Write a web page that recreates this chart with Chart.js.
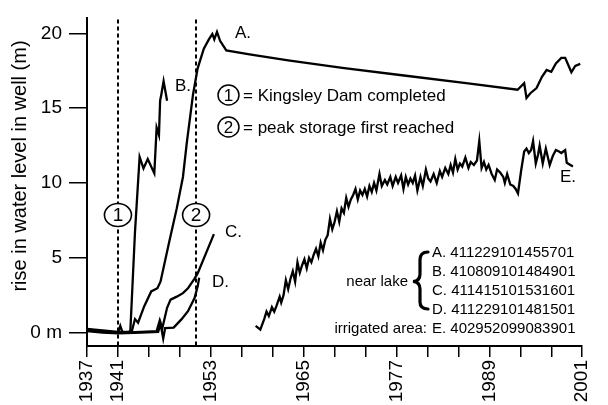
<!DOCTYPE html>
<html><head><meta charset="utf-8">
<script src="https://cdn.jsdelivr.net/npm/chart.js@4"></script>
<style>html,body{margin:0;padding:0;background:#fff}</style>
</head><body>
<canvas id="c" width="608" height="405" style="width:608px;height:405px"></canvas>
<script>
// ---- data (year, rise in metres) ----
const aYears  = [1937, 1939, 1941, 1942.5, 1942.8, 1943.2, 1943.6, 1944.4, 1945.3, 1946.1, 1946.5, 1947.6, 1948.6, 1949.4, 1949.9, 1950.7, 1951.3, 1952.1, 1952.75, 1953.2, 1953.45, 1953.8, 1954.2, 1955.0, 1958.0, 1963.0, 1970.0, 1977.7, 1986.0, 1992.65, 1993.5, 1993.8, 1994.3, 1995.1, 1995.8, 1996.4, 1997.0, 1997.6, 1998.3, 1998.8, 1999.2, 1999.6, 2000.1, 2000.75];
const aValues = [0.25, 0.15, 0.05, 0.05, 0.1, 0.9, 0.66, 1.76, 2.75, 2.96, 3.4, 6.0, 8.3, 10.4, 12.7, 15.9, 17.66, 18.97, 19.6, 19.96, 19.6, 20.1, 19.5, 18.86, 18.6, 18.2, 17.7, 17.2, 16.67, 16.23, 16.67, 15.68, 16.0, 16.34, 17.1, 17.55, 17.43, 17.99, 18.36, 18.36, 17.88, 17.4, 17.83, 17.96];

const bYears  = [1937, 1939, 1941, 1942.3, 1942.6, 1943.2, 1943.8, 1944.3, 1944.85, 1945.7, 1946.0, 1946.3, 1946.45, 1946.6, 1946.9, 1947.35];
const bValues = [0.2, 0.1, 0.0, 0.0, 0.1, 6.7, 11.74, 10.97, 11.6, 10.64, 13.7, 13.2, 15.5, 15.9, 16.8, 15.5];

const cYears  = [1937, 1939, 1941, 1941.3, 1941.6, 1944, 1946.0, 1946.4, 1946.7, 1947.35, 1947.8, 1948.6, 1949.4, 1950.05, 1950.9, 1951.3, 1953.4];
const cValues = [0.15, 0.05, 0.0, 0.45, 0.0, 0.05, 0.1, 0.8, 0.22, 1.65, 2.2, 2.4, 2.63, 2.96, 3.6, 3.95, 6.58];

const dYears  = [1937, 1939, 1941, 1944, 1946.2, 1946.5, 1946.85, 1947.1, 1948.2, 1949.2, 1950.05, 1950.9, 1951.3, 1951.5];
const dValues = [0.1, 0.0, -0.05, 0.0, 0.05, 0.6, -0.4, 0.3, 0.33, 0.88, 1.43, 2.3, 3.07, 3.66];

const eYears  = [1958.8, 1959.4, 1959.9, 1960.2, 1960.5, 1960.9, 1961.2, 1961.5, 1961.9, 1962.1, 1962.4, 1962.7, 1963.0, 1963.3, 1963.6, 1963.9, 1964.2, 1964.5, 1964.8, 1965.1, 1965.4, 1965.7, 1966.0, 1966.3, 1966.6, 1966.9, 1967.2, 1967.5, 1967.8, 1968.1, 1968.4, 1968.7, 1969.0, 1969.3, 1969.6, 1969.9, 1970.2, 1970.5, 1970.8, 1971.1, 1971.4, 1971.7, 1972.0, 1972.3, 1972.6, 1972.9, 1973.2, 1973.5, 1973.8, 1974.1, 1974.4, 1974.8, 1975.1, 1975.5, 1975.8, 1976.2, 1976.5, 1976.9, 1977.2, 1977.6, 1977.9, 1978.2, 1978.5, 1978.8, 1979.1, 1979.4, 1979.7, 1980.1, 1980.4, 1980.8, 1981.1, 1981.4, 1981.8, 1982.2, 1982.6, 1982.9, 1983.3, 1983.7, 1984.0, 1984.3, 1984.6, 1984.9, 1985.2, 1985.5, 1985.9, 1986.3, 1986.6, 1987.0, 1987.4, 1987.7, 1988.0, 1988.3, 1988.6, 1988.9, 1989.3, 1989.7, 1990.0, 1990.4, 1990.8, 1991.0, 1991.3, 1991.7, 1992.1, 1992.4, 1992.7, 1993.1, 1993.5, 1993.8, 1994.1, 1994.4, 1994.65, 1995.0, 1995.3, 1995.5, 1995.9, 1996.3, 1996.8, 1997.2, 1997.6, 1998.0, 1998.3, 1998.8, 1999.0, 1999.8];
const eValues = [0.45, 0.2, 0.9, 1.4, 1.1, 1.7, 1.4, 1.8, 2.4, 2.0, 2.5, 3.5, 2.9, 3.6, 4.1, 3.4, 4.7, 4.0, 4.5, 4.9, 4.3, 5.0, 4.7, 5.2, 5.6, 5.1, 6.0, 5.5, 6.2, 6.5, 7.6, 6.9, 7.4, 8.1, 7.4, 8.3, 8.0, 9.0, 8.4, 8.9, 9.2, 9.6, 8.9, 9.5, 9.2, 9.6, 9.1, 9.8, 9.4, 10.0, 9.5, 10.6, 9.8, 10.2, 9.9, 10.4, 9.8, 10.4, 10.0, 10.5, 9.6, 10.4, 9.9, 10.3, 10.0, 10.5, 9.5, 10.4, 9.8, 10.9, 10.3, 10.1, 10.6, 10.0, 10.8, 10.4, 11.0, 10.6, 11.2, 10.7, 11.6, 10.9, 11.3, 11.1, 11.7, 11.0, 11.4, 11.2, 11.5, 12.8, 11.0, 11.4, 10.9, 11.2, 10.6, 10.2, 10.9, 10.7, 10.4, 10.0, 10.6, 9.9, 9.8, 9.6, 9.3, 10.8, 12.1, 12.3, 12.0, 12.2, 12.8, 11.3, 11.9, 12.5, 11.3, 12.3, 11.2, 11.8, 12.2, 12.1, 12.0, 12.2, 11.35, 11.1];

const seriesNames = ['A.', 'B.', 'C.', 'D.', 'E.'];
const wellIds = ['411229101455701', '410809101484901', '411415101531601', '411229101481501', '402952099083901'];

const xTickYears = [1937, 1941, 1945, 1949, 1953, 1957, 1961, 1965, 1969, 1973, 1977, 1981, 1985, 1989, 1993, 1997, 2001];
const xLabeledYears = [1937, 1941, 1953, 1965, 1977, 1989, 2001];
const yTickValues = [0, 5, 10, 15, 20];
const yTickLabels = ['0 m', '5', '10', '15', '20'];

const eventYears = [1941, 1951.1];
const eventMarks = ['1', '2'];
const eventTexts = ['= Kingsley Dam completed', '= peak storage first reached'];
const yTitle = 'rise in water level in well (m)';

// ---- helpers ----
const FONT = "'Liberation Sans', Arial, sans-serif";
function pts(xs, ys) { return xs.map((x, i) => ({ x: x, y: ys[i] })); }
function ds(xs, ys) {
  return { data: pts(xs, ys), showLine: true, borderColor: '#000', borderWidth: 2.3,
           pointRadius: 0, tension: 0, fill: false, borderJoinStyle: 'miter' };
}

const overlay = {
  id: 'overlay',
  beforeDraw(chart) {
    const c = chart.ctx;
    c.save(); c.fillStyle = '#fff'; c.fillRect(0, 0, chart.width, chart.height); c.restore();
  },
  beforeDatasetsDraw(chart) {
    const c = chart.ctx, xs = chart.scales.x, area = chart.chartArea;
    c.save();
    c.strokeStyle = '#000'; c.lineWidth = 2; c.setLineDash([4, 3]);
    eventYears.forEach(yr => {
      const px = Math.round(xs.getPixelForValue(yr));
      c.beginPath(); c.moveTo(px, area.top + 1); c.lineTo(px, area.bottom); c.stroke();
    });
    c.restore();
  },
  afterDraw(chart) {
    const c = chart.ctx, xs = chart.scales.x;
    c.save();
    c.fillStyle = '#000'; c.strokeStyle = '#000';
    // circled event markers on the dotted lines
    eventYears.forEach((yr, i) => {
      const px = xs.getPixelForValue(yr);
      c.beginPath(); c.ellipse(px, 215, 13.5, 11.5, 0, 0, Math.PI * 2);
      c.fillStyle = '#fff'; c.fill(); c.lineWidth = 1.6; c.stroke();
      c.fillStyle = '#000'; c.font = '19px ' + FONT; c.textAlign = 'center'; c.textBaseline = 'middle';
      c.fillText(eventMarks[i], px, 216);
    });
    // event key
    eventTexts.forEach((t, i) => {
      const cy = 95 + i * 32;
      c.beginPath(); c.ellipse(228.5, cy, 10.5, 10, 0, 0, Math.PI * 2);
      c.lineWidth = 1.5; c.stroke();
      c.font = '17px ' + FONT; c.textAlign = 'center'; c.textBaseline = 'middle';
      c.fillText(eventMarks[i], 228.5, cy + 1);
      c.textAlign = 'left';
      c.fillText(t, 243, cy + 1);
    });
    // series labels
    const lbl = [[235, 33], [175, 86], [225, 232], [212, 282], [560, 177]];
    c.font = '17px ' + FONT; c.textAlign = 'left'; c.textBaseline = 'middle';
    seriesNames.forEach((n, i) => c.fillText(n, lbl[i][0], lbl[i][1]));
    // well legend
    c.font = '15px ' + FONT;
    seriesNames.forEach((n, i) => c.fillText(n + ' ' + wellIds[i], 432, 253 + i * 19));
    c.textAlign = 'right';
    c.fillText('near lake', 408, 282);
    c.fillText('irrigated area:', 427, 329);
    // brace
    c.lineWidth = 3.2; c.lineCap = 'round';
    c.beginPath();
    c.moveTo(428, 252);
    c.quadraticCurveTo(420, 252, 420, 260);
    c.lineTo(420, 274);
    c.quadraticCurveTo(420, 281, 413, 281.5);
    c.quadraticCurveTo(420, 282, 420, 289);
    c.lineTo(420, 302);
    c.quadraticCurveTo(420, 309, 428, 309);
    c.stroke();
    // y-axis title
    c.translate(20, 166); c.rotate(-Math.PI / 2);
    c.font = '20px ' + FONT; c.textAlign = 'center'; c.textBaseline = 'middle';
    c.fillText(yTitle, 0, 0);
    c.restore();
  }
};

new Chart(document.getElementById('c'), {
  type: 'scatter',
  data: { datasets: [ds(aYears, aValues), ds(bYears, bValues), ds(cYears, cValues), ds(dYears, dValues), ds(eYears, eValues)] },
  options: {
    responsive: false, animation: false, devicePixelRatio: 1,
    layout: { padding: { left: 0, top: 12, right: 8, bottom: 0 } },
    plugins: { legend: { display: false }, tooltip: { enabled: false } },
    scales: {
      x: {
        type: 'linear', min: 1937, max: 2001,
        afterFit(s) { s.height = 59; },
        afterBuildTicks(s) { s.ticks = xTickYears.map(v => ({ value: v })); },
        border: { display: true, color: '#000', width: 2 },
        grid: { drawOnChartArea: false, drawTicks: true, tickLength: 11, color: '#000', lineWidth: 1.5 },
        ticks: {
          autoSkip: false, maxRotation: 90, minRotation: 90, padding: 3, color: '#000',
          font: { family: FONT, size: 19 },
          callback: v => xLabeledYears.includes(v) ? String(v) : ''
        }
      },
      y: {
        type: 'linear', min: -0.9, max: 21,
        afterFit(s) { s.width = 87; },
        afterBuildTicks(s) { s.ticks = yTickValues.map(v => ({ value: v })); },
        border: { display: true, color: '#000', width: 2 },
        grid: { drawOnChartArea: false, drawTicks: true, tickLength: 18, color: '#000', lineWidth: 1.5 },
        ticks: {
          padding: 7, color: '#000', font: { family: FONT, size: 19 },
          callback: v => { const k = yTickValues.indexOf(v); return k >= 0 ? yTickLabels[k] : ''; }
        }
      }
    }
  },
  plugins: [overlay]
});
</script>
</body></html>
